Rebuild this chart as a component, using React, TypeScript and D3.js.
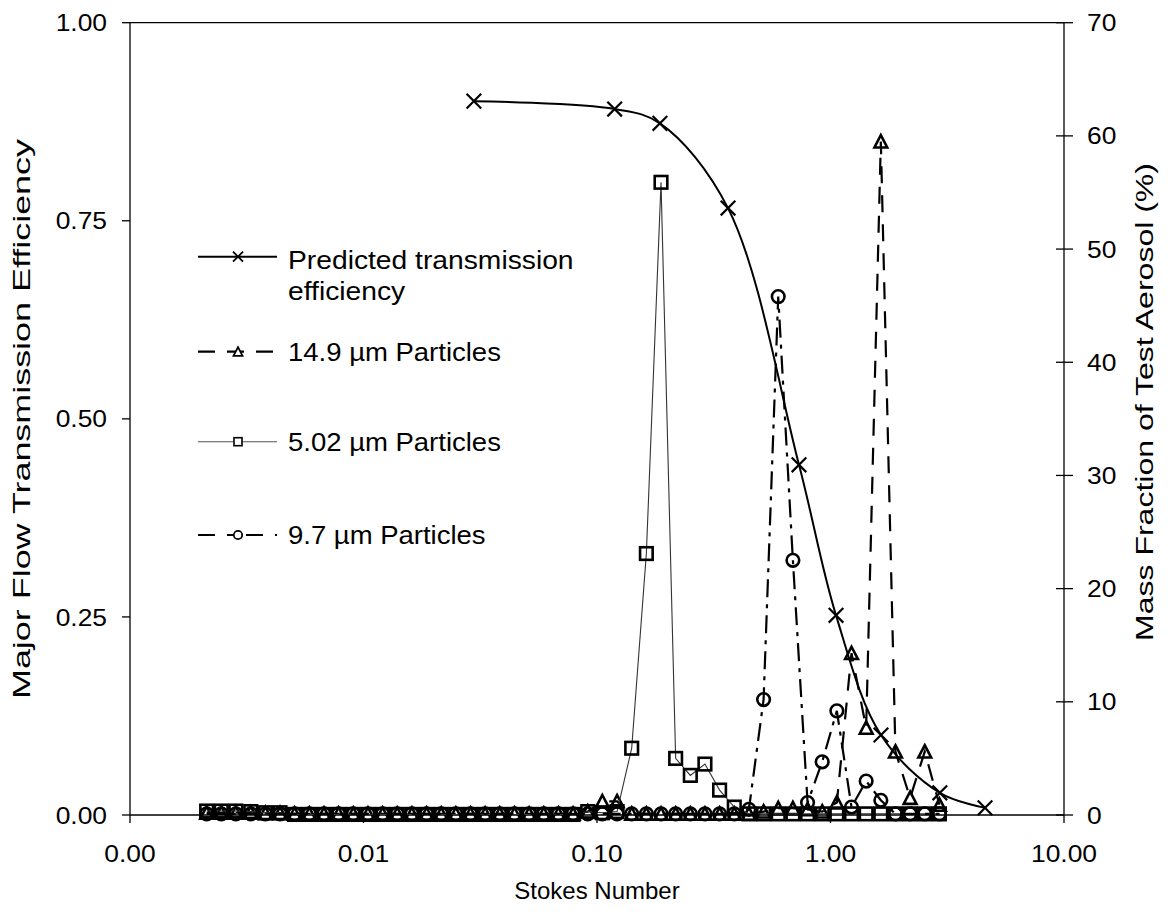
import React from 'react';
import * as d3 from 'd3';

// Stokes number of each size channel (shared by the three measured series)
const stokes = [
  0.00213, 0.00246, 0.00284, 0.00329, 0.0038, 0.00439, 0.00507, 0.00586, 0.00677, 0.00782,
  0.00904, 0.01045, 0.01207, 0.01394, 0.01611, 0.01862, 0.02151, 0.02485, 0.02872, 0.03318,
  0.03834, 0.04431, 0.05119, 0.05916, 0.06834, 0.07898, 0.09127, 0.1054, 0.1219, 0.1408,
  0.1627, 0.188, 0.2172, 0.251, 0.2899, 0.335, 0.3872, 0.4473, 0.5169, 0.5972,
  0.6902, 0.7976, 0.9214, 1.0646, 1.2303, 1.4214, 1.6427, 1.8974, 2.1928, 2.5327, 2.9274,
];

// Mass fraction (%) – right axis
const mass149 = [
  0.2, 0.2, 0.2, 0.2, 0.15, 0.15, 0.1, 0.1, 0.1, 0.1,
  0.1, 0.1, 0.1, 0.1, 0.1, 0.1, 0.1, 0.1, 0.1, 0.1,
  0.1, 0.1, 0.1, 0.1, 0.1, 0.1, 0.3, 1.2, 1.2, 0.1,
  0.1, 0.1, 0.1, 0.1, 0.1, 0.1, 0.1, 0.1, 0.3, 0.6,
  0.6, 0.5, 0.3, 1.1, 14.3, 7.7, 59.5, 5.6, 1.5, 5.6, 0.9,
];
const mass502 = [
  0.35, 0.35, 0.35, 0.3, 0.2, 0.2, 0.05, 0.05, 0.05, 0.05,
  0.05, 0.05, 0.05, 0.05, 0.05, 0.05, 0.05, 0.05, 0.05, 0.05,
  0.05, 0.05, 0.05, 0.05, 0.05, 0.05, 0.3, 0.2, 0.3, 5.9,
  23.1, 55.9, 5.0, 3.5, 4.5, 2.2, 0.7, 0.1, 0.1, 0.1,
  0.1, 0.1, 0.1, 0.1, 0.1, 0.1, 0.1, 0.1, 0.1, 0.1, 0.1,
];
const mass97 = [
  0.1, 0.1, 0.1, 0.1, 0.1, 0.1, 0.1, 0.1, 0.1, 0.1,
  0.1, 0.1, 0.1, 0.1, 0.1, 0.1, 0.1, 0.1, 0.1, 0.1,
  0.1, 0.1, 0.1, 0.1, 0.1, 0.1, 0.1, 0.1, 0.1, 0.1,
  0.1, 0.1, 0.1, 0.1, 0.1, 0.1, 0.1, 0.5, 10.2, 45.8,
  22.5, 1.1, 4.7, 9.2, 0.7, 3.0, 1.3, 0.1, 0.1, 0.1, 0.1,
];

// Predicted transmission efficiency – left axis
const predStokes = [0.0297, 0.119, 0.186, 0.364, 0.733, 1.056, 1.645, 2.94, 4.59];
const predEff = [0.901, 0.891, 0.873, 0.766, 0.442, 0.252, 0.101, 0.028, 0.009];

const xTicks = [0.001, 0.01, 0.1, 1, 10];
const xTickLabels = ['0.00', '0.01', '0.10', '1.00', '10.00'];
const yLeftTicks = [0, 0.25, 0.5, 0.75, 1];
const yRightTicks = [0, 10, 20, 30, 40, 50, 60, 70];

const FONT = "'Liberation Sans', Arial, sans-serif";

export default function App() {
  const W = 1170, H = 921;
  const L = 130, R = 1064, T = 22.7, B = 815;
  const x = d3.scaleLog().domain([0.001, 10]).range([L, R]);
  const yL = d3.scaleLinear().domain([0, 1]).range([B, T]);
  const yR = d3.scaleLinear().domain([0, 70]).range([B, T]);

  const predPts: [number, number][] = predStokes.map((s, i) => [x(s), yL(predEff[i])]);
  const predLine = d3.line().curve(d3.curveCatmullRom.alpha(0.5))(predPts) || '';

  const mk = (vals: number[]) => stokes.map((s, i) => [x(s), yR(vals[i])] as [number, number]);
  const p149 = mk(mass149), p502 = mk(mass502), p97 = mk(mass97);
  const lin = d3.line();

  const tri = (cx: number, cy: number, s: number) =>
    `M${cx},${cy - s}L${cx + s},${cy + s * 0.92}L${cx - s},${cy + s * 0.92}Z`;
  const cross = (cx: number, cy: number, s: number) =>
    `M${cx - s},${cy - s}L${cx + s},${cy + s}M${cx - s},${cy + s}L${cx + s},${cy - s}`;

  const SX = 1.1;
  const tickText = (tx: number, ty: number, s: string, anchor: string, key: string) => (
    <text key={key} transform={`translate(${tx},${ty}) scale(${SX},1)`} textAnchor={anchor}
      fontSize={24} fontFamily={FONT} fill="#000">{s}</text>
  );

  const legRows = [256.7, 351.7, 441.7, 535];
  const lx0 = 198, lx1 = 277, lmx = 238;
  const MS = 2.6;

  return (
    <svg width={W} height={H} style={{ position: 'absolute', left: 0, top: 0, background: '#fff' }}>
      <rect x={0} y={0} width={W} height={H} fill="#fff" />
      {/* plot frame */}
      <line x1={L} y1={T} x2={R} y2={T} stroke="#000" strokeWidth={1.3} />
      <line x1={L} y1={T} x2={L} y2={B} stroke="#000" strokeWidth={1.3} />
      <line x1={R} y1={T} x2={R} y2={B} stroke="#000" strokeWidth={1.3} />
      <line x1={L} y1={B} x2={R} y2={B} stroke="#000" strokeWidth={1.3} />

      {/* x ticks */}
      {xTicks.map((t, i) => (
        <g key={'xt' + i}>
          <line x1={x(t)} x2={x(t)} y1={B} y2={B + 8} stroke="#000" strokeWidth={1.3} />
          {tickText(x(t), 862, xTickLabels[i], 'middle', 'xl' + i)}
        </g>
      ))}
      {/* left ticks */}
      {yLeftTicks.map((t, i) => (
        <g key={'yl' + i}>
          <line x1={L - 8} x2={L} y1={yL(t)} y2={yL(t)} stroke="#000" strokeWidth={1.3} />
          {tickText(107, yL(t) + 8.6, t.toFixed(2), 'end', 'yll' + i)}
        </g>
      ))}
      {/* right ticks */}
      {yRightTicks.map((t, i) => (
        <g key={'yr' + i}>
          <line x1={R - 8} x2={R + 9} y1={yR(t)} y2={yR(t)} stroke="#000" strokeWidth={1.3} />
          {tickText(1087, yR(t) + 8.6, String(t), 'start', 'yrl' + i)}
        </g>
      ))}

      {/* axis titles */}
      <text x={597} y={899} textAnchor="middle" fontSize={24} fontFamily={FONT}>Stokes Number</text>
      <text transform={`translate(30,419) rotate(-90)`} textAnchor="middle" fontSize={24} fontFamily={FONT}
        textLength={560} lengthAdjust="spacingAndGlyphs">Major Flow Transmission Efficiency</text>
      <text transform={`translate(1153,402) rotate(-90)`} textAnchor="middle" fontSize={23.5} fontFamily={FONT}
        textLength={478} lengthAdjust="spacingAndGlyphs">Mass Fraction of Test Aerosol (%)</text>

      {/* predicted transmission */}
      <path d={predLine} fill="none" stroke="#000" strokeWidth={2} />
      {predPts.map((p, i) => (
        <path key={'px' + i} d={cross(p[0], p[1], 7.3)} stroke="#000" strokeWidth={2.2} fill="none" />
      ))}

      {/* 14.9 um */}
      <path d={lin(p149) || ''} fill="none" stroke="#000" strokeWidth={2.2} strokeDasharray="17,12" />
      {p149.map((p, i) => (
        <path key={'t' + i} d={tri(p[0], p[1], 6.4)} stroke="#000" strokeWidth={MS} fill="none" />
      ))}

      {/* 5.02 um */}
      <path d={lin(p502) || ''} fill="none" stroke="#333" strokeWidth={1.1} />
      {p502.map((p, i) => (
        <rect key={'s' + i} x={p[0] - 6.3} y={p[1] - 6.3} width={12.6} height={12.6}
          stroke="#000" strokeWidth={MS} fill="none" />
      ))}

      {/* 9.7 um */}
      <path d={lin(p97) || ''} fill="none" stroke="#000" strokeWidth={2.2} strokeDasharray="18,7,4,7" />
      {p97.map((p, i) => (
        <circle key={'c' + i} cx={p[0]} cy={p[1]} r={6.3} stroke="#000" strokeWidth={MS} fill="none" />
      ))}

      {/* legend */}
      <g>
        <line x1={lx0} x2={lx1} y1={legRows[0]} y2={legRows[0]} stroke="#000" strokeWidth={2} />
        <path d={cross(lmx, legRows[0], 5)} stroke="#000" strokeWidth={1.8} fill="none" />
        <text transform={`translate(288,${legRows[0] + 12}) scale(1.13,1)`} fontSize={25} fontFamily={FONT}>Predicted transmission</text>
        <text transform={`translate(288,${legRows[0] + 43}) scale(1.13,1)`} fontSize={25} fontFamily={FONT}>efficiency</text>

        <line x1={lx0} x2={lx1} y1={legRows[1]} y2={legRows[1]} stroke="#000" strokeWidth={2.2} strokeDasharray="17,12" />
        <path d={tri(lmx, legRows[1], 4.5)} stroke="#000" strokeWidth={1.8} fill="#fff" />
        <text transform={`translate(288,${legRows[1] + 9}) scale(1.1,1)`} fontSize={25} fontFamily={FONT}>14.9 µm Particles</text>

        <line x1={lx0} x2={lx1} y1={legRows[2]} y2={legRows[2]} stroke="#555" strokeWidth={1.1} />
        <rect x={lmx - 4} y={legRows[2] - 4} width={8} height={8} stroke="#000" strokeWidth={1.6} fill="#fff" />
        <text transform={`translate(288,${legRows[2] + 9}) scale(1.1,1)`} fontSize={25} fontFamily={FONT}>5.02 µm Particles</text>

        <line x1={lx0} x2={lx1} y1={legRows[3]} y2={legRows[3]} stroke="#000" strokeWidth={2.2} strokeDasharray="17,12,7,12" />
        <circle cx={lmx} cy={legRows[3]} r={4.2} stroke="#000" strokeWidth={1.8} fill="#fff" />
        <text transform={`translate(288,${legRows[3] + 9}) scale(1.1,1)`} fontSize={25} fontFamily={FONT}>9.7 µm Particles</text>
      </g>
    </svg>
  );
}
